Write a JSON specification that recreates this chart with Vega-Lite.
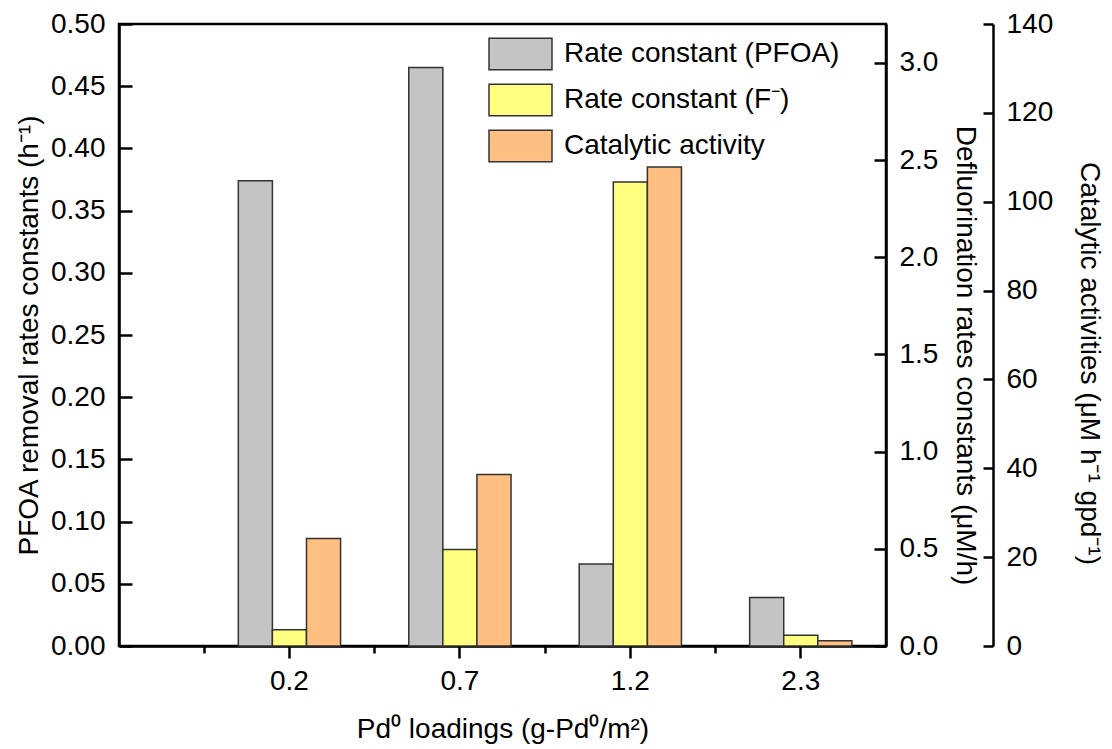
{
  "$schema": "https://vega.github.io/schema/vega-lite/v6.json",
  "width": 767,
  "height": 622,
  "autosize": {"type": "none"},
  "padding": {"left": 119, "top": 24, "right": 226, "bottom": 103},
  "background": "white",
  "config": {
    "font": "Liberation Sans",
    "view": {"stroke": "black", "strokeWidth": 2.5},
    "axis": {
      "labelFont": "Liberation Sans",
      "titleFont": "Liberation Sans",
      "labelFontSize": 28,
      "titleFontSize": 28,
      "titleFontWeight": "normal",
      "labelColor": "black",
      "titleColor": "black",
      "domainColor": "black",
      "tickColor": "black",
      "domainWidth": 2.5,
      "tickWidth": 2.5,
      "grid": false
    }
  },
  "data": {
    "values": [
      {"loading": "0.2", "series": "Rate constant (PFOA)", "value": 0.374},
      {"loading": "0.7", "series": "Rate constant (PFOA)", "value": 0.465},
      {"loading": "1.2", "series": "Rate constant (PFOA)", "value": 0.066},
      {"loading": "2.3", "series": "Rate constant (PFOA)", "value": 0.039},
      {"loading": "0.2", "series": "Rate constant (F⁻)", "value": 0.084},
      {"loading": "0.7", "series": "Rate constant (F⁻)", "value": 0.496},
      {"loading": "1.2", "series": "Rate constant (F⁻)", "value": 2.387},
      {"loading": "2.3", "series": "Rate constant (F⁻)", "value": 0.055},
      {"loading": "0.2", "series": "Catalytic activity", "value": 24.2},
      {"loading": "0.7", "series": "Catalytic activity", "value": 38.6},
      {"loading": "1.2", "series": "Catalytic activity", "value": 107.8},
      {"loading": "2.3", "series": "Catalytic activity", "value": 1.2}
    ]
  },
  "layer": [
    {
      "transform": [{"filter": "datum.series === 'Rate constant (PFOA)'"}],
      "mark": {"type": "bar", "stroke": "#333333", "strokeWidth": 1.5},
      "encoding": {
        "x": {
          "field": "loading", "type": "nominal",
          "scale": {"domain": ["0.2", "0.7", "1.2", "2.3"], "paddingInner": 0, "paddingOuter": 0.25, "align": 1},
          "axis": {"orient": "bottom", "title": "Pd⁰ loadings (g-Pd⁰/m²)", "labelAngle": 0, "tickSize": 12, "labelPadding": 9, "titlePadding": 20}
        },
        "xOffset": {
          "field": "series", "type": "nominal",
          "scale": {"domain": ["Rate constant (PFOA)", "Rate constant (F⁻)", "Catalytic activity"], "paddingInner": 0, "paddingOuter": 1.156}
        },
        "y": {
          "field": "value", "type": "quantitative",
          "scale": {"domain": [0, 0.5], "nice": false, "zero": true},
          "axis": {"orient": "left", "title": "PFOA removal rates constants (h⁻¹)", "values": [0, 0.05, 0.1, 0.15, 0.2, 0.25, 0.3, 0.35, 0.4, 0.45, 0.5], "format": ".2f", "tickSize": -13, "labelPadding": 27, "titlePadding": 7}
        },
        "color": {
          "field": "series", "type": "nominal",
          "scale": {"domain": ["Rate constant (PFOA)", "Rate constant (F⁻)", "Catalytic activity"], "range": ["#C4C4C4", "#FFFF80", "#FFBF80"]},
          "legend": {
            "orient": "none", "legendX": 369, "legendY": 12, "title": null, "padding": 0,
            "symbolType": "M-1,-0.5H1V0.5H-1Z", "symbolSize": 3969,
            "symbolStrokeColor": "#333333", "symbolStrokeWidth": 1.5, "symbolOpacity": 1,
            "labelFont": "Liberation Sans", "labelFontSize": 28, "labelColor": "black", "labelOffset": 11, "labelLimit": 400,
            "clipHeight": 36, "rowPadding": 10
          }
        }
      }
    },
    {
      "transform": [{"filter": "datum.series === 'Rate constant (F⁻)'"}],
      "mark": {"type": "bar", "stroke": "#333333", "strokeWidth": 1.5},
      "encoding": {
        "x": {
          "field": "loading", "type": "nominal",
          "scale": {"domain": ["0.2", "0.7", "1.2", "2.3"], "paddingInner": 0, "paddingOuter": 0.25, "align": 1},
          "axis": {"orient": "bottom", "title": null, "labels": false, "domain": false, "bandPosition": 0, "tickSize": 7}
        },
        "xOffset": {
          "field": "series", "type": "nominal",
          "scale": {"domain": ["Rate constant (PFOA)", "Rate constant (F⁻)", "Catalytic activity"], "paddingInner": 0, "paddingOuter": 1.156}
        },
        "y": {
          "field": "value", "type": "quantitative",
          "scale": {"domain": [0, 3.2], "nice": false, "zero": true},
          "axis": {"orient": "right", "title": "Defluorination rates constants (μM/h)", "values": [0, 0.5, 1, 1.5, 2, 2.5, 3], "format": ".1f", "tickSize": -12, "labelPadding": 25, "titlePadding": 13, "titleY": 331}
        },
        "color": {
          "field": "series", "type": "nominal",
          "scale": {"domain": ["Rate constant (PFOA)", "Rate constant (F⁻)", "Catalytic activity"], "range": ["#C4C4C4", "#FFFF80", "#FFBF80"]},
          "legend": null
        }
      }
    },
    {
      "transform": [{"filter": "datum.series === 'Catalytic activity'"}],
      "mark": {"type": "bar", "stroke": "#333333", "strokeWidth": 1.5},
      "encoding": {
        "x": {
          "field": "loading", "type": "nominal",
          "scale": {"domain": ["0.2", "0.7", "1.2", "2.3"], "paddingInner": 0, "paddingOuter": 0.25, "align": 1},
          "axis": null
        },
        "xOffset": {
          "field": "series", "type": "nominal",
          "scale": {"domain": ["Rate constant (PFOA)", "Rate constant (F⁻)", "Catalytic activity"], "paddingInner": 0, "paddingOuter": 1.156}
        },
        "y": {
          "field": "value", "type": "quantitative",
          "scale": {"domain": [0, 140], "nice": false, "zero": true},
          "axis": {"orient": "right", "offset": 107, "title": "Catalytic activities (μM h⁻¹ gpd⁻¹)", "values": [0, 20, 40, 60, 80, 100, 120, 140], "format": "d", "tickSize": -10, "labelPadding": 23, "titlePadding": 22, "titleY": 339}
        },
        "color": {
          "field": "series", "type": "nominal",
          "scale": {"domain": ["Rate constant (PFOA)", "Rate constant (F⁻)", "Catalytic activity"], "range": ["#C4C4C4", "#FFFF80", "#FFBF80"]},
          "legend": null
        }
      }
    }
  ],
  "resolve": {"scale": {"y": "independent"}, "axis": {"x": "independent"}}
}
